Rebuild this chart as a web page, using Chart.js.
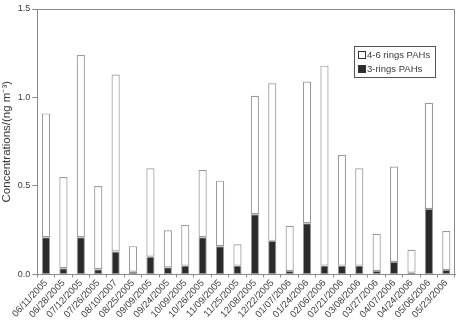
<!DOCTYPE html>
<html lang="en">
<head>
  <meta charset="UTF-8" />
  <title>PAHs concentrations</title>
  <script src="https://cdn.jsdelivr.net/npm/chart.js"></script>
  <style>
    html, body { margin: 0; padding: 0; background: #fff; }
    #wrap { width: 457px; height: 320px; }
  </style>
</head>
<body>
  <div id="wrap"><canvas id="pahChart"></canvas></div>
  <script>
    const sampleDates = ['06/11/2005', '06/28/2005', '07/12/2005', '07/26/2005', '08/10/2007', '08/25/2005',
      '09/09/2005', '09/24/2005', '10/09/2005', '10/26/2005', '11/09/2005', '11/25/2005',
      '12/08/2005', '12/22/2005', '01/07/2006', '01/24/2006', '02/06/2006', '02/21/2006',
      '03/08/2006', '03/27/2006', '04/07/2006', '04/24/2006', '05/06/2006', '05/23/2006'];
    const threeRings = [0.21, 0.035, 0.21, 0.03, 0.13, 0.015, 0.10, 0.04, 0.05, 0.21, 0.16, 0.05,
      0.34, 0.19, 0.02, 0.29, 0.05, 0.05, 0.05, 0.02, 0.07, 0.01, 0.37, 0.025];
    const fourSixRings = [0.70, 0.515, 1.03, 0.47, 1.00, 0.145, 0.50, 0.21, 0.23, 0.38, 0.37, 0.12,
      0.67, 0.89, 0.255, 0.80, 1.13, 0.625, 0.55, 0.21, 0.54, 0.13, 0.60, 0.22];
    const yTicks = [0.0, 0.5, 1.0, 1.5];

    const axisGrey = '#8a8a8a';
    const textColor = '#3a3a3a';
    const fontFamily = '"Liberation Sans", Arial, sans-serif';

    // frame on top and right of the plot, legend box inside it
    const framePlugin = {
      id: 'frame',
      afterDraw(chart) {
        const { ctx, chartArea: a } = chart;
        ctx.save();
        ctx.strokeStyle = axisGrey;
        ctx.lineWidth = 1;
        ctx.beginPath();
        ctx.moveTo(a.left, a.top + 0.5);
        ctx.lineTo(a.right - 0.5, a.top + 0.5);
        ctx.lineTo(a.right - 0.5, a.bottom);
        ctx.stroke();

        const items = [chart.data.datasets[1], chart.data.datasets[0]];
        const bx = a.right - 101, by = a.top + 37, bw = 81, bh = 31;
        ctx.strokeStyle = '#555';
        ctx.strokeRect(bx + 0.5, by + 0.5, bw, bh);
        ctx.font = '9.5px ' + fontFamily;
        ctx.textBaseline = 'middle';
        items.forEach((ds, i) => {
          const y = by + 9 + i * 14;
          ctx.fillStyle = ds.backgroundColor;
          ctx.fillRect(bx + 4.5, y - 4, 7, 7);
          ctx.strokeStyle = '#333';
          ctx.strokeRect(bx + 4.5, y - 3.5, 7, 7);
          ctx.fillStyle = textColor;
          ctx.fillText(ds.label, bx + 13, y);
        });
        ctx.restore();
      }
    };

    new Chart(document.getElementById('pahChart'), {
      type: 'bar',
      data: {
        labels: sampleDates,
        datasets: [
          {
            label: '3-rings PAHs',
            data: threeRings,
            backgroundColor: '#2b2b2b',
            borderColor: '#9a9a9a',
            borderWidth: 1,
            borderSkipped: false,
            categoryPercentage: 1.0,
            barPercentage: 0.47
          },
          {
            label: '4-6 rings PAHs',
            data: fourSixRings,
            backgroundColor: '#ffffff',
            borderColor: '#9a9a9a',
            borderWidth: 1.2,
            borderSkipped: false,
            categoryPercentage: 1.0,
            barPercentage: 0.47
          }
        ]
      },
      options: {
        responsive: true,
        maintainAspectRatio: false,
        animation: false,
        layout: { padding: { top: 9, right: 2, left: 0, bottom: 0 } },
        plugins: {
          legend: { display: false },
          tooltip: { enabled: false }
        },
        scales: {
          x: {
            stacked: true,
            grid: { display: true, drawOnChartArea: false, offset: true, tickLength: 3, color: axisGrey },
            border: { color: axisGrey, width: 1 },
            ticks: {
              minRotation: 47, maxRotation: 47, autoSkip: false,
              color: textColor, padding: 0,
              font: { family: fontFamily, size: 9.5 }
            }
          },
          y: {
            stacked: true,
            min: 0, max: 1.5,
            afterBuildTicks: axis => { axis.ticks = yTicks.map(v => ({ value: v })); },
            grid: { display: true, drawOnChartArea: false, tickLength: 5, color: axisGrey },
            border: { color: axisGrey, width: 1 },
            ticks: {
              color: textColor, padding: 2,
              font: { family: fontFamily, size: 9 },
              callback: v => Number(v).toFixed(1)
            },
            title: {
              display: true,
              text: 'Concentrations/(ng m⁻³)',
              color: textColor,
              padding: { top: 0, bottom: 2 },
              font: { family: fontFamily, size: 11.5 }
            }
          }
        }
      },
      plugins: [framePlugin]
    });
  </script>
</body>
</html>
